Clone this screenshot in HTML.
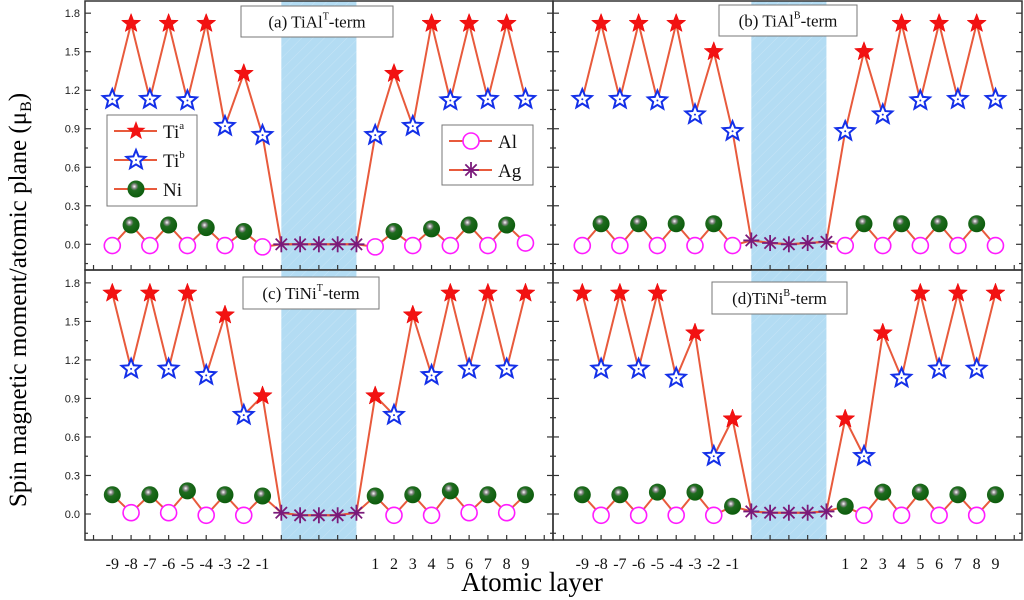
<!DOCTYPE html>
<html><head><meta charset="utf-8"><style>
html,body{margin:0;padding:0;background:#fff;}
svg{display:block;}
</style></head><body>
<svg id="chart" width="1024" height="600" viewBox="0 0 1024 600" xmlns="http://www.w3.org/2000/svg">
<defs>
<radialGradient id="ni" cx="0.4" cy="0.35" r="0.7">
<stop offset="0" stop-color="#ffffff"/><stop offset="0.18" stop-color="#888"/><stop offset="0.35" stop-color="#1f6b1f"/><stop offset="1" stop-color="#0a5a0a"/>
</radialGradient>
<pattern id="hatch" width="8" height="8" patternUnits="userSpaceOnUse" patternTransform="rotate(45)">
<rect width="8" height="8" fill="#b3dcf3"/><line x1="0" y1="0" x2="0" y2="8" stroke="#c6e4f6" stroke-width="1"/>
</pattern>
</defs>
<g id="plot"></g>
<text transform="translate(26,300) rotate(-90)" text-anchor="middle" font-family="Liberation Serif, serif" font-size="25">Spin magnetic moment/atomic plane (μ<tspan font-size="16" dy="5">B</tspan><tspan dy="-5">)</tspan></text>
<text x="532" y="591" text-anchor="middle" font-family="Liberation Serif, serif" font-size="27">Atomic layer</text>
</svg>
<script>
// data: 23 positions = layers -9..-1, 5 Ag sites, layers 1..9
const layerLabels = ['-9','-8','-7','-6','-5','-4','-3','-2','-1','','','','','','1','2','3','4','5','6','7','8','9'];
const tiA = [1.13,1.72,1.13,1.72,1.12,1.72,0.92,1.33,0.85];
const tiA_R = [0.85,1.33,0.92,1.72,1.12,1.72,1.13,1.72,1.13];
const subA = [-0.01,0.15,-0.01,0.15,-0.01,0.13,-0.01,0.10,-0.02];
const subA_R = [-0.02,0.10,-0.01,0.12,-0.01,0.15,-0.01,0.15,0.01];
const agA = [0,0,0,0,0];
const tiB = [1.13,1.72,1.13,1.72,1.12,1.72,1.01,1.50,0.88];
const tiB_R = [0.88,1.50,1.01,1.72,1.12,1.72,1.13,1.72,1.13];
const subB = [-0.01,0.16,-0.01,0.16,-0.01,0.16,-0.01,0.16,-0.01];
const subB_R = [-0.01,0.16,-0.01,0.16,-0.01,0.16,-0.01,0.16,-0.01];
const agB = [0.03,0.01,0.0,0.01,0.02];
const tiC = [1.72,1.13,1.72,1.13,1.72,1.08,1.55,0.77,0.92];
const tiC_R = [0.92,0.77,1.55,1.08,1.72,1.13,1.72,1.13,1.72];
const subC = [0.15,0.01,0.15,0.01,0.18,-0.01,0.15,-0.01,0.14];
const subC_R = [0.14,-0.01,0.15,-0.01,0.18,0.01,0.15,0.01,0.15];
const agC = [0.01,-0.01,-0.01,-0.01,0.01];
const tiD = [1.72,1.13,1.72,1.13,1.72,1.06,1.41,0.45,0.74];
const tiD_R = [0.74,0.45,1.41,1.06,1.72,1.13,1.72,1.13,1.72];
const subD = [0.15,-0.01,0.15,-0.01,0.17,-0.01,0.17,-0.01,0.06];
const subD_R = [0.06,-0.01,0.17,-0.01,0.17,-0.01,0.15,-0.01,0.15];
const agD = [0.02,0.01,0.01,0.01,0.02];
const yTicks = [0.0,0.3,0.6,0.9,1.2,1.5,1.8];
const titles = ['(a) TiAl|T|-term','(b) TiAl|B|-term','(c) TiNi|T|-term','(d)TiNi|B|-term'];

const NS='http://www.w3.org/2000/svg';
const root=document.getElementById('plot');
function mk(tag,attrs,parent){const e=document.createElementNS(NS,tag);for(const k in attrs)e.setAttribute(k,attrs[k]);(parent||root).appendChild(e);return e;}
function starPts(cx,cy,R,r){let p=[];for(let i=0;i<10;i++){const a=-Math.PI/2+i*Math.PI/5;const rr=i%2?r:R;p.push((cx+rr*Math.cos(a)).toFixed(1)+','+(cy+rr*Math.sin(a)).toFixed(1));}return p.join(' ');}

const panels=[
 {x0:85,x1:553,top:1,bot:270,first:112.3,zero:244.3,ti:tiA,tiR:tiA_R,sub:subA,subR:subA_R,ag:agA,nameKey:'a',subStart:'al',box:[241,6,152,31],leftLabels:true},
 {x0:553,x1:1022,top:1,bot:270,first:582.3,zero:244.3,ti:tiB,tiR:tiB_R,sub:subB,subR:subB_R,ag:agB,nameKey:'b',subStart:'al',box:[719,5,138,31],leftLabels:false},
 {x0:85,x1:553,top:270,bot:540,first:112.3,zero:514,ti:tiC,tiR:tiC_R,sub:subC,subR:subC_R,ag:agC,nameKey:'c',subStart:'ni',box:[243,277,136,32],leftLabels:true,xLabels:true},
 {x0:553,x1:1022,top:270,bot:540,first:582.3,zero:514,ti:tiD,tiR:tiD_R,sub:subD,subR:subD_R,ag:agD,nameKey:'d',subStart:'ni',box:[712,282,135,32],leftLabels:false,xLabels:true}
];
const STEP=18.78, SCALE=128.4;

panels.forEach((P,pi)=>{
 const g=mk('g',{});
 
 
 const X=i=>P.first+i*STEP;
 const Y=v=>P.zero-v*SCALE;
 // band
 const band=mk('rect',{x:X(9),y:P.top,width:X(13)-X(9),height:P.bot-P.top,fill:'url(#hatch)'},g);
 
 
 // frame
 const fr=mk('rect',{x:P.x0,y:P.top,width:P.x1-P.x0,height:P.bot-P.top,fill:'none',stroke:'#333','stroke-width':1.5},g);
 
 
 // y ticks
 for(let k=-1;k<=12;k++){const v=k*0.15;const y=Y(v);if(y<P.top+1||y>P.bot-1)continue;const len=k%2===0?6:3;
  mk('line',{x1:P.x0,y1:y,x2:P.x0+len,y2:y,stroke:'#333','stroke-width':1.2},g);
  mk('line',{x1:P.x1,y1:y,x2:P.x1-len,y2:y,stroke:'#333','stroke-width':1.2},g);}
 if(P.leftLabels){yTicks.forEach(v=>{const t=mk('text',{x:P.x0-5,y:Y(v)+4,'text-anchor':'end','font-family':'Liberation Sans, sans-serif','font-size':11,fill:'#222'},g);t.textContent=v.toFixed(1);
  
  });}
 // x ticks
 for(let i=-1;i<=23;i++){const x=X(i);if(x<P.x0||x>P.x1)continue;
  mk('line',{x1:x,y1:P.bot,x2:x,y2:P.bot-5,stroke:'#333','stroke-width':1.2},g);}
 if(P.xLabels){layerLabels.forEach((l,i)=>{if(!l)return;const t=mk('text',{x:X(i),y:569,'text-anchor':'middle','font-family':'Liberation Serif, serif','font-size':16,fill:'#111'},g);t.textContent=l;
  
  });}
 // series
 const tiAll=P.ti.concat(P.ag,P.tiR), subAll=P.sub.concat(P.ag,P.subR);
 [tiAll,subAll].forEach((arr,si)=>{
  const pl=mk('polyline',{points:arr.map((v,i)=>X(i).toFixed(1)+','+Y(v).toFixed(1)).join(' '),fill:'none',stroke:'#e85a3c','stroke-width':2},g);
  
  
 });
 const leftTiStartA = P.subStart==='al';
 function drawTi(i,v,isA){
  if(isA){const s=mk('polygon',{points:starPts(X(i),Y(v),10,4.2),fill:'#f21212',stroke:'#e00','stroke-width':0.5},g);
   
   }
  else{const s=mk('polygon',{points:starPts(X(i),Y(v),10,4.4),fill:'#fff',stroke:'#1430e8','stroke-width':2},g);
   
   
   mk('circle',{cx:X(i),cy:Y(v),r:1,fill:'#1430e8'},g);}
 }
 function drawSub(i,v,isAl){
  if(isAl){const c=mk('circle',{cx:X(i),cy:Y(v),r:8,fill:'#fff',stroke:'#ff1cff','stroke-width':1.6},g);
   
   }
  else{const c=mk('circle',{cx:X(i),cy:Y(v),r:8.5,fill:'url(#ni)'},g);
   
   }
 }
 for(let j=0;j<9;j++){
  const alHere = leftTiStartA ? (j%2===0) : (j%2===1);
  drawSub(j,P.sub[j],alHere); drawTi(j,P.ti[j],!alHere);
  const jr=8-j; const iR=14+j;
  const alR = leftTiStartA ? (jr%2===0) : (jr%2===1);
  drawSub(iR,P.subR[j],alR); drawTi(iR,P.tiR[j],!alR);
 }
 P.ag.forEach((v,k)=>{const i=9+k,x=X(i),y=Y(v);const a=mk('g',{},g);
  
  
  for(let m=0;m<4;m++){const ang=m*Math.PI/4;mk('line',{x1:x-8*Math.cos(ang),y1:y-8*Math.sin(ang),x2:x+8*Math.cos(ang),y2:y+8*Math.sin(ang),stroke:'#7a1a7a','stroke-width':1.8},a);}});
 const b=P.box;const tb=mk('g',{},g);
 
 
 mk('rect',{x:b[0],y:b[1],width:b[2],height:b[3],fill:'#fff',stroke:'#777','stroke-width':1},tb);
 const parts=titles[pi].split('|');
 const t=mk('text',{x:b[0]+b[2]/2,y:b[1]+b[3]/2+6,'text-anchor':'middle','font-family':'Liberation Serif, serif','font-size':17,fill:'#111'},tb);
 t.appendChild(document.createTextNode(parts[0]));
 const sp=mk('tspan',{'font-size':10,dy:-8},t);sp.textContent=parts[1];
 const sp2=mk('tspan',{dy:8},t);sp2.textContent=parts[2];
});

function legend(x,y,w,h,items,name){
 const g=mk('g',{});
 
 
 mk('rect',{x:x,y:y,width:w,height:h,fill:'#fff',stroke:'#777','stroke-width':1},g);
 items.forEach((it,k)=>{const cy=y+16+k*29;
  mk('line',{x1:x+7,y1:cy,x2:x+50,y2:cy,stroke:'#e85a3c','stroke-width':2},g);
  const cx=x+29;
  if(it[1]==='ta')mk('polygon',{points:starPts(cx,cy,10,4.2),fill:'#f21212'},g);
  if(it[1]==='tb'){mk('polygon',{points:starPts(cx,cy,10,4.4),fill:'#fff',stroke:'#1430e8','stroke-width':2},g);mk('circle',{cx:cx,cy:cy,r:1,fill:'#1430e8'},g);}
  if(it[1]==='ni')mk('circle',{cx:cx,cy:cy,r:8.5,fill:'url(#ni)'},g);
  if(it[1]==='al')mk('circle',{cx:cx,cy:cy,r:8,fill:'#fff',stroke:'#ff1cff','stroke-width':1.6},g);
  if(it[1]==='ag')for(let m=0;m<4;m++){const a=m*Math.PI/4;mk('line',{x1:cx-8*Math.cos(a),y1:cy-8*Math.sin(a),x2:cx+8*Math.cos(a),y2:cy+8*Math.sin(a),stroke:'#7a1a7a','stroke-width':1.8},g);}
  const t=mk('text',{x:x+56,y:cy+7,'font-family':'Liberation Serif, serif','font-size':19,fill:'#111'},g);
  
  
  t.appendChild(document.createTextNode(it[0]));
  if(it[2]){const s=mk('tspan',{'font-size':11,dy:-9},t);s.textContent=it[2];}
 });
}
legend(107,115,90,91,[['Ti','ta','a'],['Ti','tb','b'],['Ni','ni','']],'legend-ti-ni');
legend(442,125,91,60,[['Al','al',''],['Ag','ag','']],'legend-al-ag');
</script>
</body></html>
